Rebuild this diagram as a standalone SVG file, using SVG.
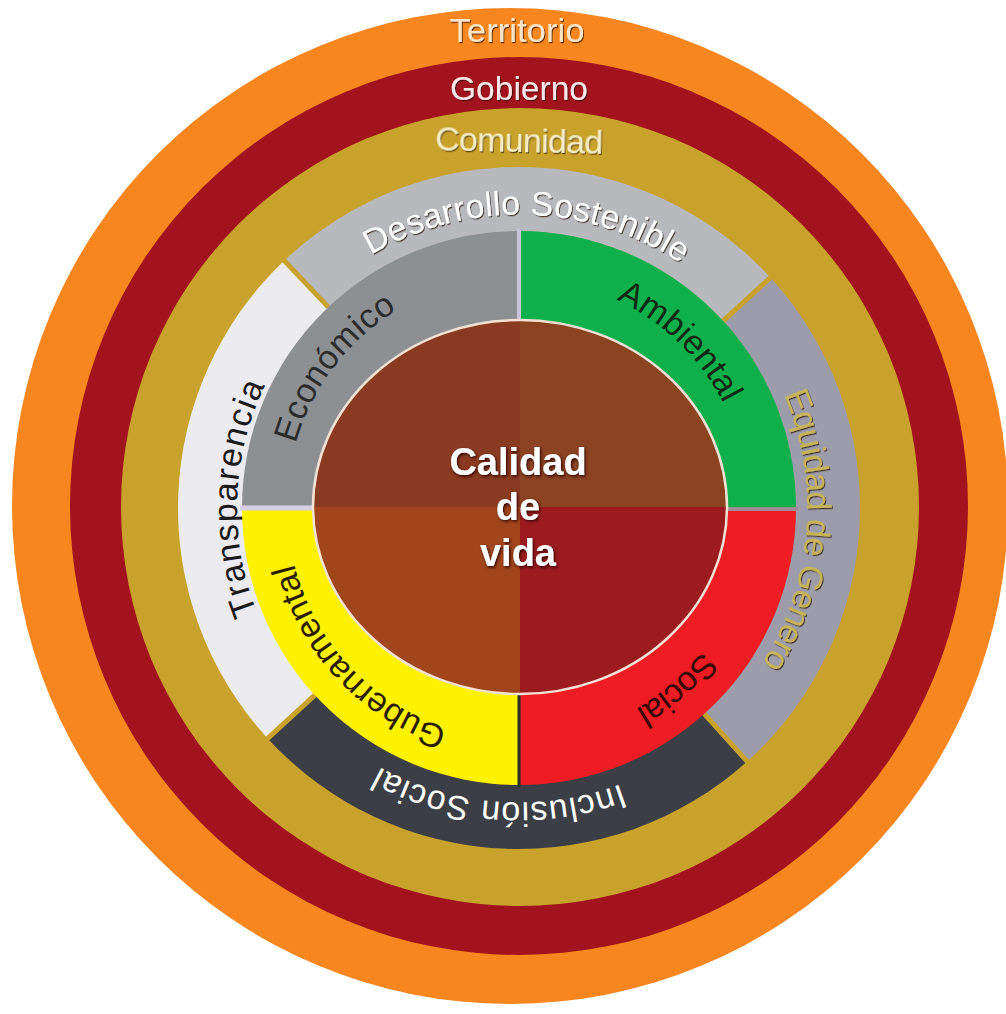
<svg xmlns="http://www.w3.org/2000/svg" width="1006" height="1014" viewBox="0 0 1006 1014">
  <defs>
    <style>
      text { font-family: "Liberation Sans", Arial, sans-serif; }
      .ring { font-size: 34px; filter: url(#soft); }
      .band { font-size: 34px; }
      .quad { font-size: 34px; }
      .core { font-size: 38px; font-weight: bold; fill: #ffffff; filter: url(#halo); }
      .gap { stroke: #c9a22c; stroke-width: 5; stroke-linecap: butt; }
    </style>
    <filter id="soft" x="-10%" y="-20%" width="120%" height="150%">
      <feDropShadow dx="1" dy="1.2" stdDeviation="0.7" flood-color="#2a1000" flood-opacity="0.75"/>
    </filter>
    <filter id="halo" x="-10%" y="-20%" width="120%" height="150%">
      <feDropShadow dx="1.2" dy="1.5" stdDeviation="1.4" flood-color="#2a0400" flood-opacity="0.95"/>
    </filter>
    <!-- clockwise arcs around the centre (519,508) used as text baselines -->
    <path id="arc-desarrollo" d="M227.9 474.3 A293 293 0 0 1 811.5 490.6"/>
    <path id="arc-transparencia" d="M484.6 787.9 A282 282 0 0 1 504.2 226.4"/>
    <path id="arc-equidad" d="M567.5 224.1 A288 288 0 0 1 520.5 796"/>
    <path id="arc-inclusion" d="M809.4 554 A294 294 0 0 1 225 513.1"/>
    <path id="arc-economico" d="M363.1 679.9 A232 232 0 0 1 642.7 311.7"/>
    <path id="arc-ambiental" d="M368.1 334.4 A230 230 0 0 1 697.7 652.7"/>
    <path id="arc-social" d="M706.7 371.6 A232 232 0 0 1 357.8 674.9"/>
    <path id="arc-gubernamental" d="M661.8 690.8 A232 232 0 0 1 346.6 352.8"/>
  </defs>

  <rect width="1006" height="1014" fill="#ffffff"/>

  <!-- outer rings -->
  <g id="territorio">
    <circle cx="510" cy="506" r="498" fill="#f7861e"/>
    <text class="ring" x="517" y="42" text-anchor="middle" fill="#fde6c8" textLength="135" lengthAdjust="spacingAndGlyphs" font-size="36">Territorio</text>
  </g>
  <g id="gobierno">
    <circle cx="519" cy="506" r="449" fill="#a2131d"/>
    <text class="ring" x="519" y="100" text-anchor="middle" fill="#fbe6e8" textLength="138" lengthAdjust="spacingAndGlyphs" font-size="36">Gobierno</text>
  </g>
  <g id="comunidad">
    <circle cx="520" cy="507" r="399" fill="#c9a22c"/>
    <text class="ring" x="519" y="152" text-anchor="middle" fill="#f8edc4" font-size="33" textLength="168" transform="rotate(1.2 519 152)">Comunidad</text>
  </g>

  <!-- middle band of four sectors -->
  <g id="desarrollo-sostenible">
    <path d="M519 508 L284.3 260.6 A341 341 0 0 1 770.4 277.6 Z" fill="#b8b9bc"/>
    <text class="band" fill="#ffffff" filter="url(#soft)"><textPath href="#arc-desarrollo" startOffset="50%" text-anchor="middle" textLength="327">Desarrollo Sostenible</textPath></text>
  </g>
  <g id="equidad-de-genero">
    <path d="M519 508 L770.4 277.6 A341 341 0 0 1 747.2 761.4 Z" fill="#9c9caa"/>
    <text class="band" font-size="31" fill="#c6b35a" filter="url(#soft)"><textPath href="#arc-equidad" startOffset="50%" text-anchor="middle" textLength="281">Equidad de Genero</textPath></text>
  </g>
  <g id="inclusion-social">
    <path d="M519 508 L747.2 761.4 A341 341 0 0 1 267.6 738.4 Z" fill="#3b3e44"/>
    <text class="band" font-size="34" fill="#ffffff"><textPath href="#arc-inclusion" startOffset="50%" text-anchor="middle" textLength="250">Inclusión Social</textPath></text>
  </g>
  <g id="transparencia">
    <path d="M519 508 L267.6 738.4 A341 341 0 0 1 284.3 260.6 Z" fill="#ecebf0"/>
    <text class="band" font-size="37" fill="#1a1a1a"><textPath href="#arc-transparencia" startOffset="50%" text-anchor="middle" textLength="234">Transparencia</textPath></text>
  </g>

  <!-- gaps between the band sectors -->
  <g id="band-gaps">
    <line class="gap" x1="328.3" y1="307.1" x2="282.9" y2="259.1"/>
    <line class="gap" x1="723.2" y1="320.9" x2="771.9" y2="276.2"/>
    <line class="gap" x1="704.3" y1="713.8" x2="748.5" y2="762.9"/>
    <line class="gap" x1="314.8" y1="695.1" x2="266.1" y2="739.8"/>
  </g>

  <!-- quadrant ring -->
  <g id="economico">
    <path d="M519 508 L242 508 A277 277 0 0 1 519 231 Z" fill="#8d9093"/>
  </g>
  <g id="ambiental">
    <path d="M519 508 L519 231 A277 277 0 0 1 796 508 Z" fill="#0db04b"/>
  </g>
  <g id="social">
    <path d="M519 508 L796 508 A277 277 0 0 1 519 785 Z" fill="#f01c24"/>
  </g>
  <g id="gubernamental">
    <path d="M519 508 L519 785 A277 277 0 0 1 242 508 Z" fill="#fef200"/>
  </g>

  <g id="dividers">
    <line x1="519" y1="229" x2="519" y2="322" stroke="#c9c3d6" stroke-width="4"/>
    <line x1="519" y1="692" x2="519" y2="787" stroke="#263020" stroke-width="3"/>
    <line x1="240" y1="508" x2="318" y2="508" stroke="#d6cfe6" stroke-width="5"/>
    <line x1="724" y1="509" x2="798" y2="509" stroke="#a08a98" stroke-width="4"/>
  </g>

  <!-- centre: quality of life -->
  <g id="calidad-de-vida">
    <path d="M520 507 L313 507 A207 187 0 0 1 520 320 Z" fill="#8a3a21"/>
    <path d="M520 507 L520 320 A207 187 0 0 1 727 507 Z" fill="#8b4322"/>
    <path d="M520 507 L727 507 A207 187 0 0 1 520 694 Z" fill="#9c1b1f"/>
    <path d="M520 507 L520 694 A207 187 0 0 1 313 507 Z" fill="#a1461c"/>
    <ellipse cx="520" cy="507" rx="207" ry="187" fill="none" stroke="#f3e2d4" stroke-width="2.5"/>
    <text class="core" x="518" y="475" text-anchor="middle">Calidad</text>
    <text class="core" x="518" y="520" text-anchor="middle">de</text>
    <text class="core" x="518" y="566" text-anchor="middle">vida</text>
  </g>

  <!-- quadrant labels -->
  <g id="quadrant-labels">
    <text class="quad" fill="#2b2b2b"><textPath href="#arc-economico" startOffset="50%" text-anchor="middle" textLength="172">Económico</textPath></text>
    <text class="quad" fill="#0f2a14"><textPath href="#arc-ambiental" startOffset="50%" text-anchor="middle" textLength="152">Ambiental</textPath></text>
    <text class="quad" font-size="33" fill="#3a0808"><textPath href="#arc-social" startOffset="50%" text-anchor="middle" textLength="89">Social</textPath></text>
    <text class="quad" fill="#2a1d00"><textPath href="#arc-gubernamental" startOffset="50%" text-anchor="middle" textLength="235">Gubernamental</textPath></text>
  </g>
</svg>
